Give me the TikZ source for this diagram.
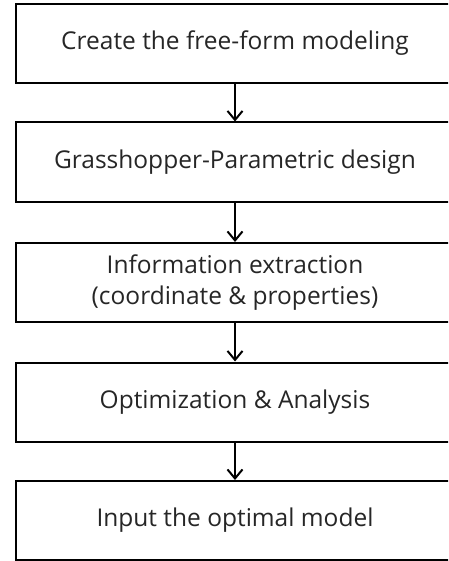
\documentclass[tikz,border=0pt]{standalone}
\usepackage{fontspec}
\setmainfont{Open Sans}
\usetikzlibrary{arrows.meta}
\tikzset{
  stagebox/.style={draw=black, line width=2pt, rectangle, minimum width=438pt,
    minimum height=79pt, inner sep=0pt, align=center, text=black!85,
    font=\fontsize{24.5}{31}\selectfont},
  flowarrow/.style={draw=black, line width=2pt,
    -{Straight Barb[length=9pt,width=15pt,line width=2pt]}}
}
\begin{document}
\begin{tikzpicture}[x=1pt,y=1pt]
  \useasboundingbox (0,0) rectangle (448,-561);
  \clip (0,0) rectangle (448,-561);
  \node[stagebox] (s1) at (235,-43.5) {Create the free-form modeling};
  \node[stagebox] (s2) at (235,-162) {Grasshopper-Parametric design};
  \node[stagebox] (s3) at (235,-282.5) {Information extraction\\(coordinate \& properties)};
  \node[stagebox] (s4) at (235,-402) {Optimization \& Analysis};
  \node[stagebox] (s5) at (235,-520.5) {Input the optimal model};
  \draw[flowarrow] (s1.south) -- (s2.north);
  \draw[flowarrow] (s2.south) -- (s3.north);
  \draw[flowarrow] (s3.south) -- (s4.north);
  \draw[flowarrow] (s4.south) -- (s5.north);
\end{tikzpicture}
\end{document}
